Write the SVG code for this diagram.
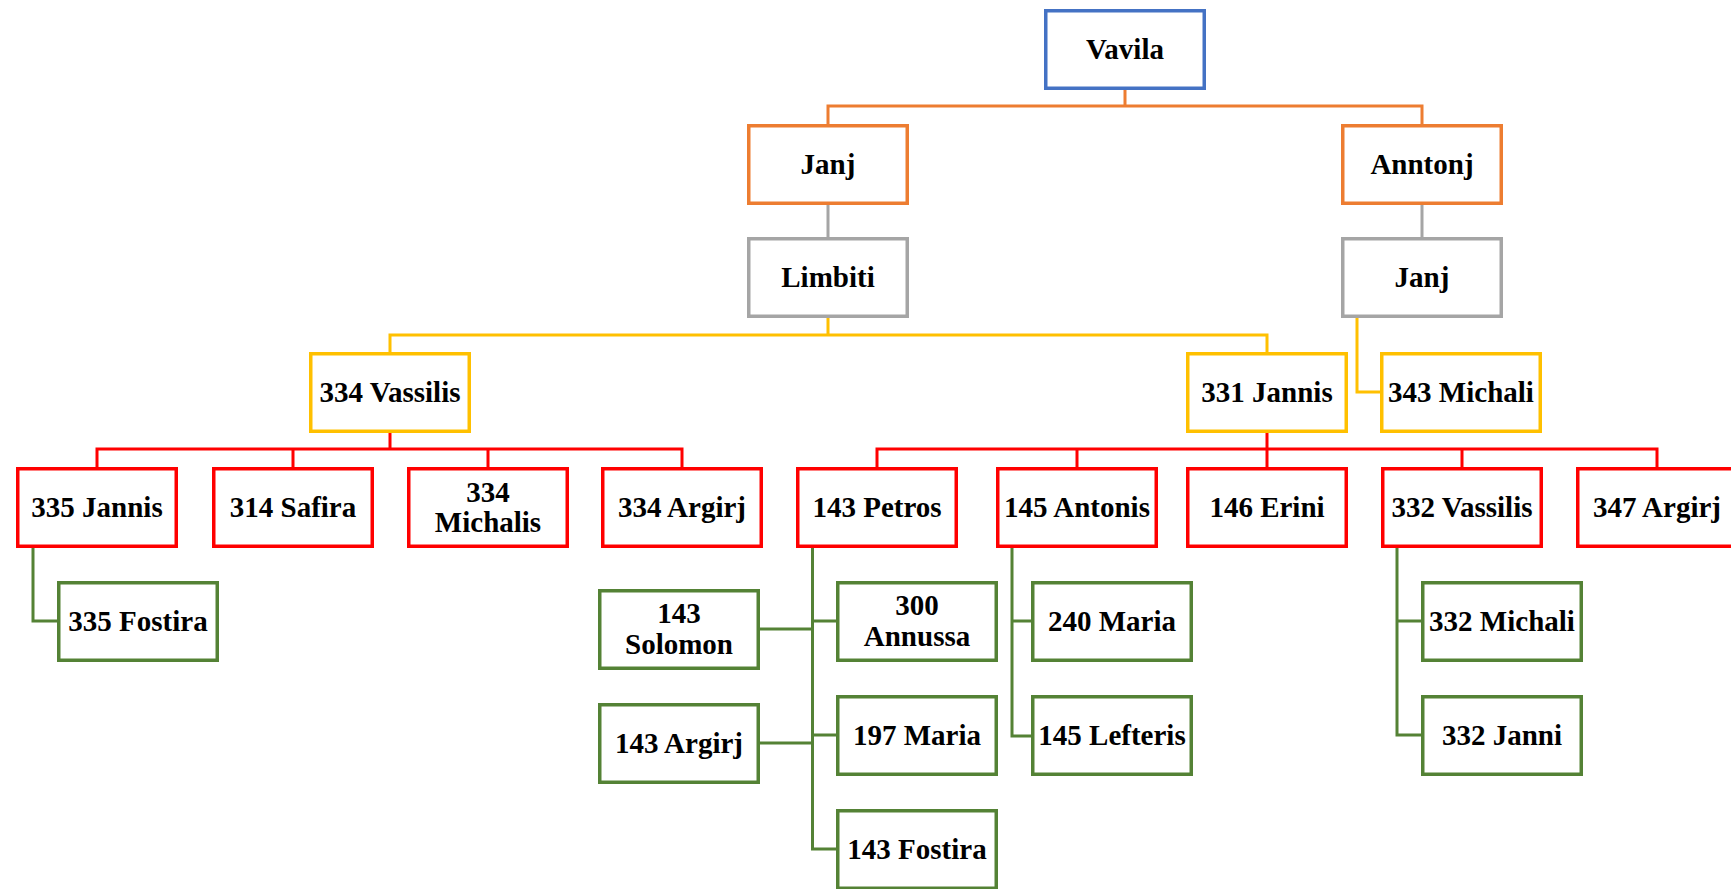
<svg xmlns="http://www.w3.org/2000/svg" width="1731" height="889" viewBox="0 0 1731 889">
<style>
.b{fill:#fff;stroke-width:3.5}
.t{font-family:"Liberation Serif","Times New Roman",serif;font-weight:bold;font-size:29px;fill:#000;text-anchor:middle}
.c{fill:none;stroke-width:3}
.blue{stroke:#4472C4}.or{stroke:#ED7D31}.gr{stroke:#A5A5A5}.ye{stroke:#FFC000}.rd{stroke:#FF0000}.gn{stroke:#548235}
</style>
<rect width="1731" height="889" fill="#fff"/>
<g id="connectors">
<path class="c or" d="M828,124 V106 H1422 V124 M1125,89 V106"/>
<path class="c gr" d="M828,204 V237 M1422,204 V237"/>
<path class="c ye" d="M828,318 V335 M390,352 V335 H1267 V352 M1357,318 V392 H1380"/>
<path class="c rd" d="M390,433 V449 M97,467 V449 H682 V467 M293,449 V467 M488,449 V467"/>
<path class="c rd" d="M1267,433 V467 M877,467 V449 H1657 V467 M1077,449 V467 M1462,449 V467"/>
<path class="c gn" d="M33,547 V621 H57"/>
<path class="c gn" d="M812.5,548 V849 H836 M760,629 H812.5 M812.5,621 H836 M760,743 H812.5 M812.5,735 H836"/>
<path class="c gn" d="M1012,548 V736 H1031 M1012,621 H1031"/>
<path class="c gn" d="M1397,547 V735 H1421 M1397,621 H1421"/>
</g>
<g id="n-vavila"><rect class="b blue" x="1045.75" y="10.75" width="158.5" height="77.5"/><text class="t" x="1125" y="59">Vavila</text></g>
<g id="n-janj"><rect class="b or" x="748.75" y="125.75" width="158.5" height="77.5"/><text class="t" x="828" y="174">Janj</text></g>
<g id="n-anntonj"><rect class="b or" x="1342.75" y="125.75" width="158.5" height="77.5"/><text class="t" x="1422" y="174">Anntonj</text></g>
<g id="n-limbiti"><rect class="b gr" x="748.75" y="238.75" width="158.5" height="77.5"/><text class="t" x="828" y="287">Limbiti</text></g>
<g id="n-janj2"><rect class="b gr" x="1342.75" y="238.75" width="158.5" height="77.5"/><text class="t" x="1422" y="287">Janj</text></g>
<g id="n-334vassilis"><rect class="b ye" x="310.75" y="353.75" width="158.5" height="77.5"/><text class="t" x="390" y="402">334 Vassilis</text></g>
<g id="n-331jannis"><rect class="b ye" x="1187.75" y="353.75" width="158.5" height="77.5"/><text class="t" x="1267" y="402">331 Jannis</text></g>
<g id="n-343michali"><rect class="b ye" x="1381.75" y="353.75" width="158.5" height="77.5"/><text class="t" x="1461" y="402">343 Michali</text></g>
<g id="n-335jannis"><rect class="b rd" x="17.75" y="468.75" width="158.5" height="77.5"/><text class="t" x="97" y="517">335 Jannis</text></g>
<g id="n-314safira"><rect class="b rd" x="213.75" y="468.75" width="158.5" height="77.5"/><text class="t" x="293" y="517">314 Safira</text></g>
<g id="n-334michalis"><rect class="b rd" x="408.75" y="468.75" width="158.5" height="77.5"/><text class="t" x="488" y="502">334</text><text class="t" x="488" y="532">Michalis</text></g>
<g id="n-334argirj"><rect class="b rd" x="602.75" y="468.75" width="158.5" height="77.5"/><text class="t" x="682" y="517">334 Argirj</text></g>
<g id="n-143petros"><rect class="b rd" x="797.75" y="468.75" width="158.5" height="77.5"/><text class="t" x="877" y="517">143 Petros</text></g>
<g id="n-145antonis"><rect class="b rd" x="997.75" y="468.75" width="158.5" height="77.5"/><text class="t" x="1077" y="517">145 Antonis</text></g>
<g id="n-146erini"><rect class="b rd" x="1187.75" y="468.75" width="158.5" height="77.5"/><text class="t" x="1267" y="517">146 Erini</text></g>
<g id="n-332vassilis"><rect class="b rd" x="1382.75" y="468.75" width="158.5" height="77.5"/><text class="t" x="1462" y="517">332 Vassilis</text></g>
<g id="n-347argirj"><rect class="b rd" x="1577.75" y="468.75" width="158.5" height="77.5"/><text class="t" x="1657" y="517">347 Argirj</text></g>
<g id="n-335fostira"><rect class="b gn" x="58.75" y="582.75" width="158.5" height="77.5"/><text class="t" x="138" y="631">335 Fostira</text></g>
<g id="n-143solomon"><rect class="b gn" x="599.75" y="590.75" width="158.5" height="77.5"/><text class="t" x="679" y="623">143</text><text class="t" x="679" y="654">Solomon</text></g>
<g id="n-300annussa"><rect class="b gn" x="837.75" y="582.75" width="158.5" height="77.5"/><text class="t" x="917" y="615">300</text><text class="t" x="917" y="646">Annussa</text></g>
<g id="n-143argirj"><rect class="b gn" x="599.75" y="704.75" width="158.5" height="77.5"/><text class="t" x="679" y="753">143 Argirj</text></g>
<g id="n-197maria"><rect class="b gn" x="837.75" y="696.75" width="158.5" height="77.5"/><text class="t" x="917" y="745">197 Maria</text></g>
<g id="n-143fostira"><rect class="b gn" x="837.75" y="810.75" width="158.5" height="77.5"/><text class="t" x="917" y="859">143 Fostira</text></g>
<g id="n-240maria"><rect class="b gn" x="1032.75" y="582.75" width="158.5" height="77.5"/><text class="t" x="1112" y="631">240 Maria</text></g>
<g id="n-145lefteris"><rect class="b gn" x="1032.75" y="696.75" width="158.5" height="77.5"/><text class="t" x="1112" y="745">145 Lefteris</text></g>
<g id="n-332michali"><rect class="b gn" x="1422.75" y="582.75" width="158.5" height="77.5"/><text class="t" x="1502" y="631">332 Michali</text></g>
<g id="n-332janni"><rect class="b gn" x="1422.75" y="696.75" width="158.5" height="77.5"/><text class="t" x="1502" y="745">332 Janni</text></g>
</svg>
